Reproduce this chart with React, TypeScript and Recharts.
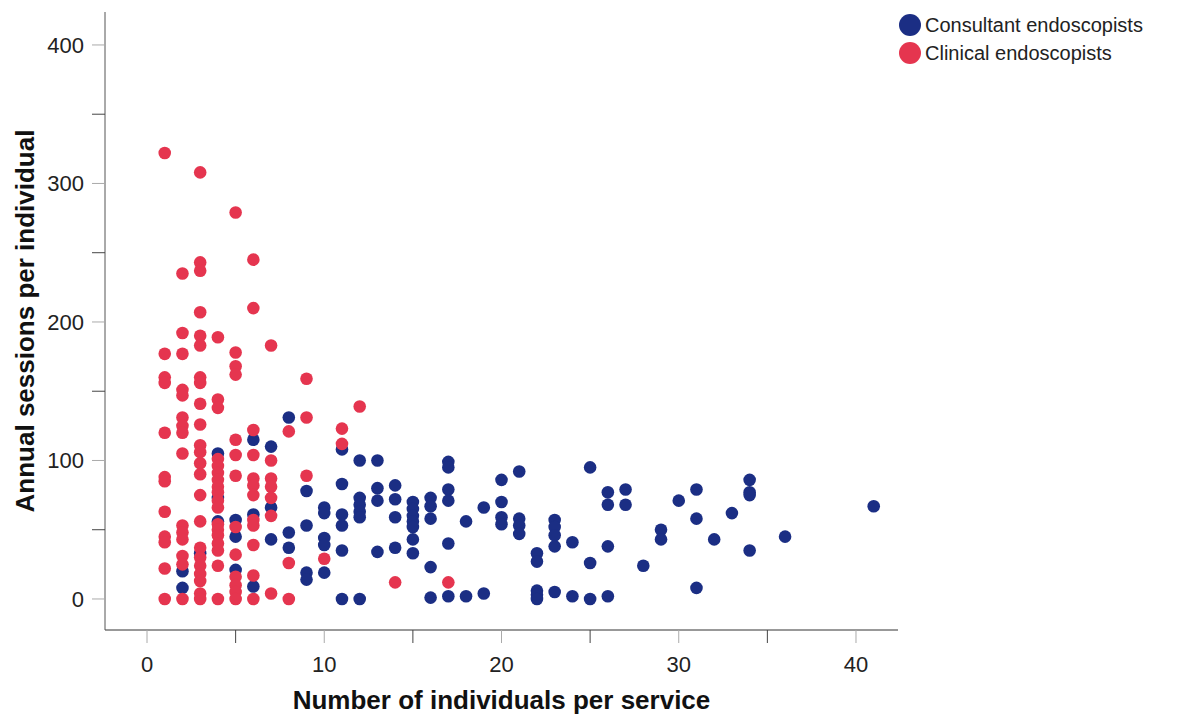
import { ScatterChart, Scatter, XAxis, YAxis, Legend, Label } from "recharts";

// values grouped by x (number of individuals per service) -> annual sessions
const consultant: [number, number[]][] = [
  [2, [20, 8]],
  [3, [33]],
  [4, [105, 73, 56]],
  [5, [57, 45, 21]],
  [6, [115, 61, 9]],
  [7, [110, 66, 43]],
  [8, [131, 48, 37]],
  [9, [78, 53, 19, 14]],
  [10, [66, 62, 44, 39, 19]],
  [11, [108, 83, 61, 53, 35, 0]],
  [12, [100, 73, 68, 63, 59, 0]],
  [13, [100, 80, 71, 34]],
  [14, [82, 72, 59, 37]],
  [15, [70, 65, 60, 56, 52, 43, 33]],
  [16, [73, 67, 58, 23, 1]],
  [17, [99, 95, 79, 71, 40, 2]],
  [18, [56, 2]],
  [19, [66, 4]],
  [20, [86, 70, 59, 54]],
  [21, [92, 58, 53, 47]],
  [22, [33, 27, 6, 3, 0]],
  [23, [57, 52, 46, 38, 5]],
  [24, [41, 2]],
  [25, [95, 26, 0]],
  [26, [77, 68, 38, 2]],
  [27, [79, 68]],
  [28, [24]],
  [29, [50, 43]],
  [30, [71]],
  [31, [79, 58, 8]],
  [32, [43]],
  [33, [62]],
  [34, [86, 77, 75, 35]],
  [36, [45]],
  [41, [67]],
];

const clinical: [number, number[]][] = [
  [1, [322, 177, 160, 156, 120, 88, 85, 63, 45, 41, 22, 0]],
  [2, [235, 192, 177, 151, 147, 131, 125, 120, 105, 53, 48, 43, 31, 25, 0]],
  [3, [308, 243, 237, 207, 190, 183, 160, 156, 141, 126, 111, 106, 98, 90, 75, 56, 37, 30, 24, 18, 13, 4, 0]],
  [4, [189, 144, 138, 101, 96, 91, 86, 81, 77, 71, 66, 54, 50, 46, 40, 35, 24, 0]],
  [5, [279, 178, 168, 162, 115, 104, 89, 52, 32, 16, 10, 5, 0]],
  [6, [245, 210, 122, 104, 87, 82, 75, 57, 53, 39, 17, 0]],
  [7, [183, 100, 87, 81, 73, 60, 4]],
  [8, [121, 26, 0]],
  [9, [159, 131, 89]],
  [10, [29]],
  [11, [123, 112]],
  [12, [139]],
  [14, [12]],
  [17, [12]],
];

const xTicks = [0, 5, 10, 15, 20, 25, 30, 35, 40];
const yTicks = [0, 50, 100, 150, 200, 250, 300, 350, 400];

const BLUE = "#1b2e84";
const RED = "#e5354f";
const FONT = "'Liberation Sans', Arial, sans-serif";

const flatten = (groups: [number, number[]][]) =>
  groups.flatMap(([x, ys]) => ys.map((y) => ({ x, y })));

const TICK = 13;
const MARGIN = 14;

const XTick = ({ x, y, payload }: any) => {
  const major = payload.value % 10 === 0;
  return (
    <g>
      <line x1={x} x2={x} y1={y - MARGIN - TICK} y2={y - MARGIN} stroke={major ? "#aaa" : "#444"} />
      {major && (
        <text x={x} y={y} dy="0.66em" textAnchor="middle" fontSize={22} fill="#222" fontFamily={FONT}>
          {payload.value}
        </text>
      )}
    </g>
  );
};

const YTick = ({ x, y, payload }: any) => {
  const major = payload.value % 100 === 0;
  return (
    <g>
      <line x1={x + MARGIN} x2={x + MARGIN + TICK} y1={y} y2={y} stroke={major ? "#aaa" : "#444"} />
      {major && (
        <text x={x + 6} y={y} dy="0.355em" textAnchor="end" fontSize={22} fill="#222" fontFamily={FONT}>
          {payload.value}
        </text>
      )}
    </g>
  );
};

const dot = (color: string) => (props: any) => (
  <circle cx={props.cx} cy={props.cy} r={6.3} fill={color} />
);

const legendItems = [
  { label: "Consultant endoscopists", color: BLUE },
  { label: "Clinical endoscopists", color: RED },
];

const LegendBox = () => (
  <div style={{ fontFamily: FONT, fontSize: 20, color: "#222" }}>
    {legendItems.map((it) => (
      <div key={it.label} style={{ display: "flex", alignItems: "center", height: 28 }}>
        <svg width={24} height={24} style={{ marginRight: 3 }}>
          <circle cx={12} cy={12} r={11} fill={it.color} />
        </svg>
        <span>{it.label}</span>
      </div>
    ))}
  </div>
);

export default function App() {
  return (
    <div style={{ position: "absolute", left: 0, top: 0, background: "#fff" }}>
      <ScatterChart width={1181} height={715} margin={{ top: 12, right: 283, bottom: 0, left: 0 }}>
        <XAxis
          type="number"
          dataKey="x"
          domain={[-2.37, 42.37]}
          ticks={xTicks}
          interval={0}
          height={85}
          tickSize={TICK}
          tickMargin={MARGIN}
          tickLine={false}
          tick={<XTick />}
          axisLine={{ stroke: "#333" }}
        >
          <Label
            content={({ viewBox }: any) => (
              <text
                x={viewBox.x + viewBox.width / 2}
                y={700}
                textAnchor="middle"
                dominantBaseline="central"
                fontSize={26}
                fontWeight="bold"
                fill="#111"
                fontFamily={FONT}
              >
                Number of individuals per service
              </text>
            )}
          />
        </XAxis>
        <YAxis
          type="number"
          dataKey="y"
          domain={[-22.4, 423.8]}
          ticks={yTicks}
          interval={0}
          width={105}
          tickSize={TICK}
          tickMargin={MARGIN}
          tickLine={false}
          tick={<YTick />}
          axisLine={{ stroke: "#555" }}
        >
          <Label
            content={({ viewBox }: any) => {
              const cy = viewBox.y + viewBox.height / 2;
              return (
                <text
                  x={25}
                  y={cy}
                  transform={`rotate(-90, 25, ${cy})`}
                  textAnchor="middle"
                  dominantBaseline="central"
                  fontSize={26}
                  fontWeight="bold"
                  fill="#111"
                  fontFamily={FONT}
                >
                  Annual sessions per individual
                </text>
              );
            }}
          />
        </YAxis>
        <Legend
          layout="vertical"
          align="center"
          verticalAlign="middle"
          wrapperStyle={{ left: 898, top: 11, width: 280 }}
          content={<LegendBox />}
        />
        <Scatter
          name="Consultant endoscopists"
          data={flatten(consultant)}
          fill={BLUE}
          shape={dot(BLUE)}
          isAnimationActive={false}
        />
        <Scatter
          name="Clinical endoscopists"
          data={flatten(clinical)}
          fill={RED}
          shape={dot(RED)}
          isAnimationActive={false}
        />
      </ScatterChart>
    </div>
  );
}
